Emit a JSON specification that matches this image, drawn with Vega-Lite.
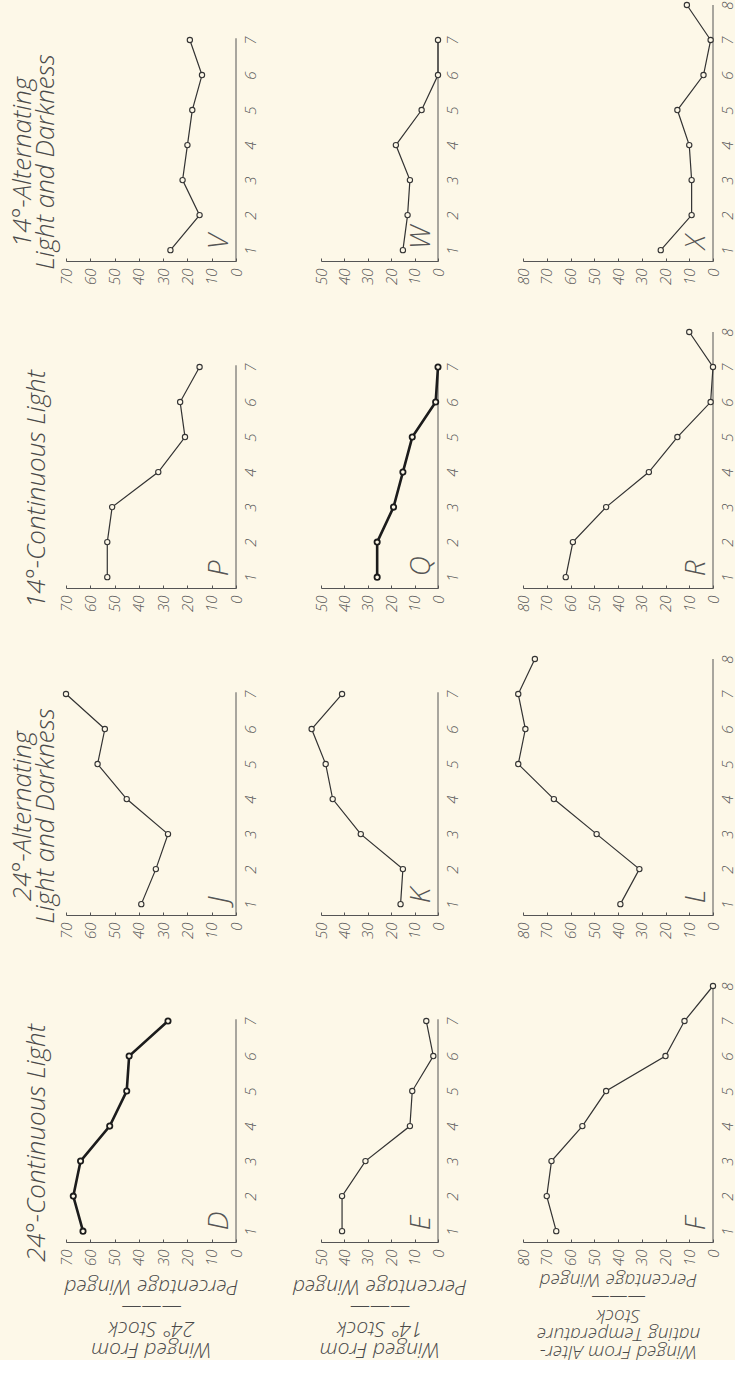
{
  "$schema": "https://vega.github.io/schema/vega-lite/v6.json",
  "autosize": {"type": "pad"},
  "padding": {"left": 9, "top": 0, "right": 0, "bottom": 0},
  "background": "#fdf8e8",
  "data": {"values": [
    {"panel":"V","stage":1,"pct":27},{"panel":"V","stage":2,"pct":15},{"panel":"V","stage":3,"pct":22},{"panel":"V","stage":4,"pct":20},{"panel":"V","stage":5,"pct":18},{"panel":"V","stage":6,"pct":14},{"panel":"V","stage":7,"pct":19},
    {"panel":"W","stage":1,"pct":15},{"panel":"W","stage":2,"pct":13},{"panel":"W","stage":3,"pct":12},{"panel":"W","stage":4,"pct":18},{"panel":"W","stage":5,"pct":7},{"panel":"W","stage":6,"pct":0},{"panel":"W","stage":7,"pct":0},
    {"panel":"X","stage":1,"pct":22},{"panel":"X","stage":2,"pct":9},{"panel":"X","stage":3,"pct":9},{"panel":"X","stage":4,"pct":10},{"panel":"X","stage":5,"pct":15},{"panel":"X","stage":6,"pct":4},{"panel":"X","stage":7,"pct":1},{"panel":"X","stage":8,"pct":11},
    {"panel":"P","stage":1,"pct":53},{"panel":"P","stage":2,"pct":53},{"panel":"P","stage":3,"pct":51},{"panel":"P","stage":4,"pct":32},{"panel":"P","stage":5,"pct":21},{"panel":"P","stage":6,"pct":23},{"panel":"P","stage":7,"pct":15},
    {"panel":"Q","stage":1,"pct":26},{"panel":"Q","stage":2,"pct":26},{"panel":"Q","stage":3,"pct":19},{"panel":"Q","stage":4,"pct":15},{"panel":"Q","stage":5,"pct":11},{"panel":"Q","stage":6,"pct":1},{"panel":"Q","stage":7,"pct":0},
    {"panel":"R","stage":1,"pct":62},{"panel":"R","stage":2,"pct":59},{"panel":"R","stage":3,"pct":45},{"panel":"R","stage":4,"pct":27},{"panel":"R","stage":5,"pct":15},{"panel":"R","stage":6,"pct":1},{"panel":"R","stage":7,"pct":0},{"panel":"R","stage":8,"pct":10},
    {"panel":"J","stage":1,"pct":39},{"panel":"J","stage":2,"pct":33},{"panel":"J","stage":3,"pct":28},{"panel":"J","stage":4,"pct":45},{"panel":"J","stage":5,"pct":57},{"panel":"J","stage":6,"pct":54},{"panel":"J","stage":7,"pct":70},
    {"panel":"K","stage":1,"pct":16},{"panel":"K","stage":2,"pct":15},{"panel":"K","stage":3,"pct":33},{"panel":"K","stage":4,"pct":45},{"panel":"K","stage":5,"pct":48},{"panel":"K","stage":6,"pct":54},{"panel":"K","stage":7,"pct":41},
    {"panel":"L","stage":1,"pct":39},{"panel":"L","stage":2,"pct":31},{"panel":"L","stage":3,"pct":49},{"panel":"L","stage":4,"pct":67},{"panel":"L","stage":5,"pct":82},{"panel":"L","stage":6,"pct":79},{"panel":"L","stage":7,"pct":82},{"panel":"L","stage":8,"pct":75},
    {"panel":"D","stage":1,"pct":63},{"panel":"D","stage":2,"pct":67},{"panel":"D","stage":3,"pct":64},{"panel":"D","stage":4,"pct":52},{"panel":"D","stage":5,"pct":45},{"panel":"D","stage":6,"pct":44},{"panel":"D","stage":7,"pct":28},
    {"panel":"E","stage":1,"pct":41},{"panel":"E","stage":2,"pct":41},{"panel":"E","stage":3,"pct":31},{"panel":"E","stage":4,"pct":12},{"panel":"E","stage":5,"pct":11},{"panel":"E","stage":6,"pct":2},{"panel":"E","stage":7,"pct":5},
    {"panel":"F","stage":1,"pct":66},{"panel":"F","stage":2,"pct":70},{"panel":"F","stage":3,"pct":68},{"panel":"F","stage":4,"pct":55},{"panel":"F","stage":5,"pct":45},{"panel":"F","stage":6,"pct":20},{"panel":"F","stage":7,"pct":12},{"panel":"F","stage":8,"pct":0}
  ]},
  "bounds": "flush",
  "columns": 3,
  "spacing": {"row": 71, "column": 85},
  "concat": [
    {"width": 170, "height": 256,
     "title": {"text": ["14°-Alternating", "Light and Darkness"], "orient": "left", "anchor": "middle", "align": "center", "frame": "group", "offset": 0, "dx": -29},
     "transform": [{"filter": "datum.panel === 'V'"}],
     "encoding": {
       "x": {"field": "pct", "type": "quantitative", "scale": {"domain": [0, 70], "reverse": true, "nice": false, "zero": false}, "axis": {"values": [0,10,20,30,40,50,60,70], "title": null}},
       "y": {"field": "stage", "type": "quantitative", "scale": {"domain": [0.69, 8], "nice": false, "zero": false}, "axis": {"orient": "right", "values": [1,2,3,4,5,6,7], "title": null}}
     },
     "layer": [
       {"transform": [{"filter": "datum.stage === 1"}], "mark": {"type": "rule", "color": "#555", "strokeWidth": 1}, "encoding": {"x": {"datum": 0, "type": "quantitative"}, "y": {"datum": 0.69, "type": "quantitative"}, "y2": {"datum": 7.05}}},
       {"mark": {"type": "line", "color": "#333", "strokeWidth": 1.2}, "encoding": {"order": {"field": "stage", "type": "quantitative"}}},
       {"mark": {"type": "point", "shape": "circle", "filled": true, "fill": "#fdf8e8", "stroke": "#333", "strokeWidth": 1.1, "size": 28, "opacity": 1}},
       {"transform": [{"filter": "datum.stage === 1"}], "mark": {"type": "text", "text": "V", "angle": 270, "align": "left", "baseline": "bottom", "dx": 1, "dy": -2, "font": "Open Sans", "fontStyle": "italic", "fontWeight": 300, "fontSize": 28, "color": "#555"}, "encoding": {"x": {"datum": 0, "type": "quantitative"}, "y": {"datum": 1, "type": "quantitative"}}}
     ]},
    {"width": 117, "height": 256,
     "transform": [{"filter": "datum.panel === 'W'"}],
     "encoding": {
       "x": {"field": "pct", "type": "quantitative", "scale": {"domain": [0, 50], "reverse": true, "nice": false, "zero": false}, "axis": {"values": [0,10,20,30,40,50], "title": null}},
       "y": {"field": "stage", "type": "quantitative", "scale": {"domain": [0.69, 8], "nice": false, "zero": false}, "axis": {"orient": "right", "values": [1,2,3,4,5,6,7], "title": null}}
     },
     "layer": [
       {"transform": [{"filter": "datum.stage === 1"}], "mark": {"type": "rule", "color": "#555", "strokeWidth": 1}, "encoding": {"x": {"datum": 0, "type": "quantitative"}, "y": {"datum": 0.69, "type": "quantitative"}, "y2": {"datum": 7.05}}},
       {"mark": {"type": "line", "color": "#333", "strokeWidth": 1.2}, "encoding": {"order": {"field": "stage", "type": "quantitative"}}},
       {"mark": {"type": "point", "shape": "circle", "filled": true, "fill": "#fdf8e8", "stroke": "#333", "strokeWidth": 1.1, "size": 28, "opacity": 1}},
       {"transform": [{"filter": "datum.stage === 1"}], "mark": {"type": "text", "text": "W", "angle": 270, "align": "left", "baseline": "bottom", "dx": 1, "dy": -2, "font": "Open Sans", "fontStyle": "italic", "fontWeight": 300, "fontSize": 28, "color": "#555"}, "encoding": {"x": {"datum": 0, "type": "quantitative"}, "y": {"datum": 1, "type": "quantitative"}}}
     ]},
    {"width": 190, "height": 256,
     "transform": [{"filter": "datum.panel === 'X'"}],
     "encoding": {
       "x": {"field": "pct", "type": "quantitative", "scale": {"domain": [0, 80], "reverse": true, "nice": false, "zero": false}, "axis": {"values": [0,10,20,30,40,50,60,70,80], "title": null}},
       "y": {"field": "stage", "type": "quantitative", "scale": {"domain": [0.69, 8], "nice": false, "zero": false}, "axis": {"orient": "right", "values": [1,2,3,4,5,6,7,8], "title": null}}
     },
     "layer": [
       {"transform": [{"filter": "datum.stage === 1"}], "mark": {"type": "rule", "color": "#555", "strokeWidth": 1}, "encoding": {"x": {"datum": 0, "type": "quantitative"}, "y": {"datum": 0.69, "type": "quantitative"}, "y2": {"datum": 8}}},
       {"mark": {"type": "line", "color": "#333", "strokeWidth": 1.2}, "encoding": {"order": {"field": "stage", "type": "quantitative"}}},
       {"mark": {"type": "point", "shape": "circle", "filled": true, "fill": "#fdf8e8", "stroke": "#333", "strokeWidth": 1.1, "size": 28, "opacity": 1}},
       {"transform": [{"filter": "datum.stage === 1"}], "mark": {"type": "text", "text": "X", "angle": 270, "align": "left", "baseline": "bottom", "dx": 1, "dy": -2, "font": "Open Sans", "fontStyle": "italic", "fontWeight": 300, "fontSize": 28, "color": "#555"}, "encoding": {"x": {"datum": 0, "type": "quantitative"}, "y": {"datum": 1, "type": "quantitative"}}}
     ]},
    {"width": 170, "height": 256,
     "title": {"text": "14°-Continuous Light", "orient": "left", "anchor": "middle", "align": "center", "frame": "group", "offset": 9, "dx": -29},
     "transform": [{"filter": "datum.panel === 'P'"}],
     "encoding": {
       "x": {"field": "pct", "type": "quantitative", "scale": {"domain": [0, 70], "reverse": true, "nice": false, "zero": false}, "axis": {"values": [0,10,20,30,40,50,60,70], "title": null}},
       "y": {"field": "stage", "type": "quantitative", "scale": {"domain": [0.69, 8], "nice": false, "zero": false}, "axis": {"orient": "right", "values": [1,2,3,4,5,6,7], "title": null}}
     },
     "layer": [
       {"transform": [{"filter": "datum.stage === 1"}], "mark": {"type": "rule", "color": "#555", "strokeWidth": 1}, "encoding": {"x": {"datum": 0, "type": "quantitative"}, "y": {"datum": 0.69, "type": "quantitative"}, "y2": {"datum": 7.05}}},
       {"mark": {"type": "line", "color": "#333", "strokeWidth": 1.2}, "encoding": {"order": {"field": "stage", "type": "quantitative"}}},
       {"mark": {"type": "point", "shape": "circle", "filled": true, "fill": "#fdf8e8", "stroke": "#333", "strokeWidth": 1.1, "size": 28, "opacity": 1}},
       {"transform": [{"filter": "datum.stage === 1"}], "mark": {"type": "text", "text": "P", "angle": 270, "align": "left", "baseline": "bottom", "dx": 1, "dy": -2, "font": "Open Sans", "fontStyle": "italic", "fontWeight": 300, "fontSize": 28, "color": "#555"}, "encoding": {"x": {"datum": 0, "type": "quantitative"}, "y": {"datum": 1, "type": "quantitative"}}}
     ]},
    {"width": 117, "height": 256,
     "transform": [{"filter": "datum.panel === 'Q'"}],
     "encoding": {
       "x": {"field": "pct", "type": "quantitative", "scale": {"domain": [0, 50], "reverse": true, "nice": false, "zero": false}, "axis": {"values": [0,10,20,30,40,50], "title": null}},
       "y": {"field": "stage", "type": "quantitative", "scale": {"domain": [0.69, 8], "nice": false, "zero": false}, "axis": {"orient": "right", "values": [1,2,3,4,5,6,7], "title": null}}
     },
     "layer": [
       {"transform": [{"filter": "datum.stage === 1"}], "mark": {"type": "rule", "color": "#555", "strokeWidth": 1}, "encoding": {"x": {"datum": 0, "type": "quantitative"}, "y": {"datum": 0.69, "type": "quantitative"}, "y2": {"datum": 7.05}}},
       {"mark": {"type": "line", "color": "#1c1c1c", "strokeWidth": 2.6}, "encoding": {"order": {"field": "stage", "type": "quantitative"}}},
       {"mark": {"type": "point", "shape": "circle", "filled": true, "fill": "#fdf8e8", "stroke": "#1c1c1c", "strokeWidth": 1.8, "size": 28, "opacity": 1}},
       {"transform": [{"filter": "datum.stage === 1"}], "mark": {"type": "text", "text": "Q", "angle": 270, "align": "left", "baseline": "bottom", "dx": 1, "dy": -2, "font": "Open Sans", "fontStyle": "italic", "fontWeight": 300, "fontSize": 28, "color": "#555"}, "encoding": {"x": {"datum": 0, "type": "quantitative"}, "y": {"datum": 1, "type": "quantitative"}}}
     ]},
    {"width": 190, "height": 256,
     "transform": [{"filter": "datum.panel === 'R'"}],
     "encoding": {
       "x": {"field": "pct", "type": "quantitative", "scale": {"domain": [0, 80], "reverse": true, "nice": false, "zero": false}, "axis": {"values": [0,10,20,30,40,50,60,70,80], "title": null}},
       "y": {"field": "stage", "type": "quantitative", "scale": {"domain": [0.69, 8], "nice": false, "zero": false}, "axis": {"orient": "right", "values": [1,2,3,4,5,6,7,8], "title": null}}
     },
     "layer": [
       {"transform": [{"filter": "datum.stage === 1"}], "mark": {"type": "rule", "color": "#555", "strokeWidth": 1}, "encoding": {"x": {"datum": 0, "type": "quantitative"}, "y": {"datum": 0.69, "type": "quantitative"}, "y2": {"datum": 8}}},
       {"mark": {"type": "line", "color": "#333", "strokeWidth": 1.2}, "encoding": {"order": {"field": "stage", "type": "quantitative"}}},
       {"mark": {"type": "point", "shape": "circle", "filled": true, "fill": "#fdf8e8", "stroke": "#333", "strokeWidth": 1.1, "size": 28, "opacity": 1}},
       {"transform": [{"filter": "datum.stage === 1"}], "mark": {"type": "text", "text": "R", "angle": 270, "align": "left", "baseline": "bottom", "dx": 1, "dy": -2, "font": "Open Sans", "fontStyle": "italic", "fontWeight": 300, "fontSize": 28, "color": "#555"}, "encoding": {"x": {"datum": 0, "type": "quantitative"}, "y": {"datum": 1, "type": "quantitative"}}}
     ]},
    {"width": 170, "height": 256,
     "title": {"text": ["24°-Alternating", "Light and Darkness"], "orient": "left", "anchor": "middle", "align": "center", "frame": "group", "offset": 0, "dx": -29},
     "transform": [{"filter": "datum.panel === 'J'"}],
     "encoding": {
       "x": {"field": "pct", "type": "quantitative", "scale": {"domain": [0, 70], "reverse": true, "nice": false, "zero": false}, "axis": {"values": [0,10,20,30,40,50,60,70], "title": null}},
       "y": {"field": "stage", "type": "quantitative", "scale": {"domain": [0.69, 8], "nice": false, "zero": false}, "axis": {"orient": "right", "values": [1,2,3,4,5,6,7], "title": null}}
     },
     "layer": [
       {"transform": [{"filter": "datum.stage === 1"}], "mark": {"type": "rule", "color": "#555", "strokeWidth": 1}, "encoding": {"x": {"datum": 0, "type": "quantitative"}, "y": {"datum": 0.69, "type": "quantitative"}, "y2": {"datum": 7.05}}},
       {"mark": {"type": "line", "color": "#333", "strokeWidth": 1.2}, "encoding": {"order": {"field": "stage", "type": "quantitative"}}},
       {"mark": {"type": "point", "shape": "circle", "filled": true, "fill": "#fdf8e8", "stroke": "#333", "strokeWidth": 1.1, "size": 28, "opacity": 1}},
       {"transform": [{"filter": "datum.stage === 1"}], "mark": {"type": "text", "text": "J", "angle": 270, "align": "left", "baseline": "bottom", "dx": 1, "dy": -2, "font": "Open Sans", "fontStyle": "italic", "fontWeight": 300, "fontSize": 28, "color": "#555"}, "encoding": {"x": {"datum": 0, "type": "quantitative"}, "y": {"datum": 1, "type": "quantitative"}}}
     ]},
    {"width": 117, "height": 256,
     "transform": [{"filter": "datum.panel === 'K'"}],
     "encoding": {
       "x": {"field": "pct", "type": "quantitative", "scale": {"domain": [0, 50], "reverse": true, "nice": false, "zero": false}, "axis": {"values": [0,10,20,30,40,50], "title": null}},
       "y": {"field": "stage", "type": "quantitative", "scale": {"domain": [0.69, 8], "nice": false, "zero": false}, "axis": {"orient": "right", "values": [1,2,3,4,5,6,7], "title": null}}
     },
     "layer": [
       {"transform": [{"filter": "datum.stage === 1"}], "mark": {"type": "rule", "color": "#555", "strokeWidth": 1}, "encoding": {"x": {"datum": 0, "type": "quantitative"}, "y": {"datum": 0.69, "type": "quantitative"}, "y2": {"datum": 7.05}}},
       {"mark": {"type": "line", "color": "#333", "strokeWidth": 1.2}, "encoding": {"order": {"field": "stage", "type": "quantitative"}}},
       {"mark": {"type": "point", "shape": "circle", "filled": true, "fill": "#fdf8e8", "stroke": "#333", "strokeWidth": 1.1, "size": 28, "opacity": 1}},
       {"transform": [{"filter": "datum.stage === 1"}], "mark": {"type": "text", "text": "K", "angle": 270, "align": "left", "baseline": "bottom", "dx": 1, "dy": -2, "font": "Open Sans", "fontStyle": "italic", "fontWeight": 300, "fontSize": 28, "color": "#555"}, "encoding": {"x": {"datum": 0, "type": "quantitative"}, "y": {"datum": 1, "type": "quantitative"}}}
     ]},
    {"width": 190, "height": 256,
     "transform": [{"filter": "datum.panel === 'L'"}],
     "encoding": {
       "x": {"field": "pct", "type": "quantitative", "scale": {"domain": [0, 80], "reverse": true, "nice": false, "zero": false}, "axis": {"values": [0,10,20,30,40,50,60,70,80], "title": null}},
       "y": {"field": "stage", "type": "quantitative", "scale": {"domain": [0.69, 8], "nice": false, "zero": false}, "axis": {"orient": "right", "values": [1,2,3,4,5,6,7,8], "title": null}}
     },
     "layer": [
       {"transform": [{"filter": "datum.stage === 1"}], "mark": {"type": "rule", "color": "#555", "strokeWidth": 1}, "encoding": {"x": {"datum": 0, "type": "quantitative"}, "y": {"datum": 0.69, "type": "quantitative"}, "y2": {"datum": 8}}},
       {"mark": {"type": "line", "color": "#333", "strokeWidth": 1.2}, "encoding": {"order": {"field": "stage", "type": "quantitative"}}},
       {"mark": {"type": "point", "shape": "circle", "filled": true, "fill": "#fdf8e8", "stroke": "#333", "strokeWidth": 1.1, "size": 28, "opacity": 1}},
       {"transform": [{"filter": "datum.stage === 1"}], "mark": {"type": "text", "text": "L", "angle": 270, "align": "left", "baseline": "bottom", "dx": 1, "dy": -2, "font": "Open Sans", "fontStyle": "italic", "fontWeight": 300, "fontSize": 28, "color": "#555"}, "encoding": {"x": {"datum": 0, "type": "quantitative"}, "y": {"datum": 1, "type": "quantitative"}}}
     ]},
    {"width": 170, "height": 256,
     "title": {"text": "24°-Continuous Light", "orient": "left", "anchor": "middle", "align": "center", "frame": "group", "offset": 9, "dx": -29},
     "transform": [{"filter": "datum.panel === 'D'"}],
     "encoding": {
       "x": {"field": "pct", "type": "quantitative", "scale": {"domain": [0, 70], "reverse": true, "nice": false, "zero": false}, "axis": {"values": [0,10,20,30,40,50,60,70], "title": ["Winged From", "24° Stock", "———", "Percentage Winged"], "titleY": 96, "titleLineHeight": 21}},
       "y": {"field": "stage", "type": "quantitative", "scale": {"domain": [0.69, 8], "nice": false, "zero": false}, "axis": {"orient": "right", "values": [1,2,3,4,5,6,7], "title": null}}
     },
     "layer": [
       {"transform": [{"filter": "datum.stage === 1"}], "mark": {"type": "rule", "color": "#555", "strokeWidth": 1}, "encoding": {"x": {"datum": 0, "type": "quantitative"}, "y": {"datum": 0.69, "type": "quantitative"}, "y2": {"datum": 7.05}}},
       {"mark": {"type": "line", "color": "#1c1c1c", "strokeWidth": 2.6}, "encoding": {"order": {"field": "stage", "type": "quantitative"}}},
       {"mark": {"type": "point", "shape": "circle", "filled": true, "fill": "#fdf8e8", "stroke": "#1c1c1c", "strokeWidth": 1.8, "size": 28, "opacity": 1}},
       {"transform": [{"filter": "datum.stage === 1"}], "mark": {"type": "text", "text": "D", "angle": 270, "align": "left", "baseline": "bottom", "dx": 1, "dy": -2, "font": "Open Sans", "fontStyle": "italic", "fontWeight": 300, "fontSize": 28, "color": "#555"}, "encoding": {"x": {"datum": 0, "type": "quantitative"}, "y": {"datum": 1, "type": "quantitative"}}}
     ]},
    {"width": 117, "height": 256,
     "transform": [{"filter": "datum.panel === 'E'"}],
     "encoding": {
       "x": {"field": "pct", "type": "quantitative", "scale": {"domain": [0, 50], "reverse": true, "nice": false, "zero": false}, "axis": {"values": [0,10,20,30,40,50], "title": ["Winged From", "14° Stock", "———", "Percentage Winged"], "titleY": 96, "titleLineHeight": 21}},
       "y": {"field": "stage", "type": "quantitative", "scale": {"domain": [0.69, 8], "nice": false, "zero": false}, "axis": {"orient": "right", "values": [1,2,3,4,5,6,7], "title": null}}
     },
     "layer": [
       {"transform": [{"filter": "datum.stage === 1"}], "mark": {"type": "rule", "color": "#555", "strokeWidth": 1}, "encoding": {"x": {"datum": 0, "type": "quantitative"}, "y": {"datum": 0.69, "type": "quantitative"}, "y2": {"datum": 7.05}}},
       {"mark": {"type": "line", "color": "#333", "strokeWidth": 1.2}, "encoding": {"order": {"field": "stage", "type": "quantitative"}}},
       {"mark": {"type": "point", "shape": "circle", "filled": true, "fill": "#fdf8e8", "stroke": "#333", "strokeWidth": 1.1, "size": 28, "opacity": 1}},
       {"transform": [{"filter": "datum.stage === 1"}], "mark": {"type": "text", "text": "E", "angle": 270, "align": "left", "baseline": "bottom", "dx": 1, "dy": -2, "font": "Open Sans", "fontStyle": "italic", "fontWeight": 300, "fontSize": 28, "color": "#555"}, "encoding": {"x": {"datum": 0, "type": "quantitative"}, "y": {"datum": 1, "type": "quantitative"}}}
     ]},
    {"width": 190, "height": 256,
     "transform": [{"filter": "datum.panel === 'F'"}],
     "encoding": {
       "x": {"field": "pct", "type": "quantitative", "scale": {"domain": [0, 80], "reverse": true, "nice": false, "zero": false}, "axis": {"values": [0,10,20,30,40,50,60,70,80], "title": ["Winged From Alter-", "nating Temperature", "Stock", "———", "Percentage Winged"], "titleY": 99, "titleLineHeight": 18, "titleFontSize": 19}},
       "y": {"field": "stage", "type": "quantitative", "scale": {"domain": [0.69, 8], "nice": false, "zero": false}, "axis": {"orient": "right", "values": [1,2,3,4,5,6,7,8], "title": null}}
     },
     "layer": [
       {"transform": [{"filter": "datum.stage === 1"}], "mark": {"type": "rule", "color": "#555", "strokeWidth": 1}, "encoding": {"x": {"datum": 0, "type": "quantitative"}, "y": {"datum": 0.69, "type": "quantitative"}, "y2": {"datum": 8}}},
       {"mark": {"type": "line", "color": "#333", "strokeWidth": 1.2}, "encoding": {"order": {"field": "stage", "type": "quantitative"}}},
       {"mark": {"type": "point", "shape": "circle", "filled": true, "fill": "#fdf8e8", "stroke": "#333", "strokeWidth": 1.1, "size": 28, "opacity": 1}},
       {"transform": [{"filter": "datum.stage === 1"}], "mark": {"type": "text", "text": "F", "angle": 270, "align": "left", "baseline": "bottom", "dx": 1, "dy": -2, "font": "Open Sans", "fontStyle": "italic", "fontWeight": 300, "fontSize": 28, "color": "#555"}, "encoding": {"x": {"datum": 0, "type": "quantitative"}, "y": {"datum": 1, "type": "quantitative"}}}
     ]}
  ],
  "config": {
    "view": {"stroke": null},
    "title": {"font": "Open Sans", "fontStyle": "italic", "fontWeight": 300, "fontSize": 26, "lineHeight": 23, "color": "#4a4a4a"},
    "axisBottom": {"labelAngle": 270, "labelAlign": "right", "labelBaseline": "middle", "labelPadding": 10, "tickSize": -3, "tickColor": "#555", "domainColor": "#555", "grid": false, "labelFont": "Open Sans", "labelFontStyle": "italic", "labelFontWeight": 300, "labelFontSize": 15, "labelColor": "#555", "titleFont": "Open Sans", "titleFontStyle": "italic", "titleFontWeight": 300, "titleFontSize": 21, "titleColor": "#4a4a4a", "titleAngle": 180, "titleBaseline": "bottom"},
    "axisRight": {"labelAngle": 270, "labelAlign": "center", "labelBaseline": "top", "labelPadding": 7, "ticks": false, "domain": false, "grid": false, "labelFont": "Open Sans", "labelFontStyle": "italic", "labelFontWeight": 300, "labelFontSize": 15, "labelColor": "#555"}
  }
}
